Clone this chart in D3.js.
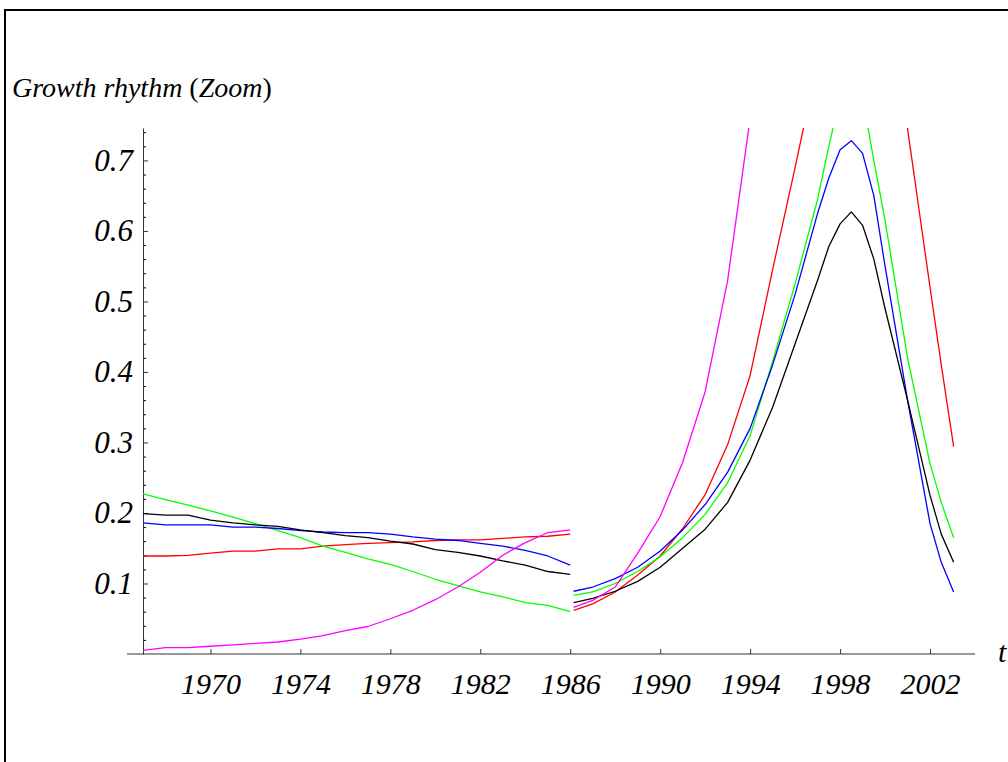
<!DOCTYPE html>
<html>
<head>
<meta charset="utf-8">
<script src="https://cdn.jsdelivr.net/npm/d3@7"></script>
<style>
  body { margin: 0; background: #fff; }
  svg { display: block; }
  .label { font-family: "Liberation Serif", "Times New Roman", serif; font-style: italic; fill: #000; }
</style>
</head>
<body>
<svg id="chart" width="1008" height="762"></svg>
<script>
// Two observation windows, drawn as separate pieces of each curve.
const leftYears = [1967, 1968, 1969, 1970, 1971, 1972, 1973, 1974, 1975, 1976,
  1977, 1978, 1979, 1980, 1981, 1982, 1983, 1984, 1985, 1986];
const rightYears = [1986.15, 1987, 1988, 1989, 1990, 1991, 1992, 1993, 1994, 1995, 1996,
  1997, 1997.5, 1998, 1998.5, 1999, 1999.5, 2000, 2001, 2002, 2002.5, 2003.05];

const blackLeft = [0.199, 0.197, 0.197, 0.190, 0.186, 0.183, 0.181, 0.176, 0.172, 0.168,
  0.165, 0.160, 0.156, 0.148, 0.144, 0.139, 0.132, 0.126, 0.117, 0.113];
const blueLeft = [0.186, 0.183, 0.183, 0.183, 0.180, 0.180, 0.178, 0.175, 0.173, 0.172,
  0.172, 0.170, 0.166, 0.163, 0.161, 0.157, 0.153, 0.147, 0.139, 0.126];
const redLeft = [0.139, 0.139, 0.140, 0.143, 0.146, 0.146, 0.149, 0.149, 0.153, 0.155,
  0.157, 0.158, 0.159, 0.161, 0.162, 0.162, 0.164, 0.166, 0.167, 0.170];
const greenLeft = [0.227, 0.219, 0.211, 0.203, 0.194, 0.185, 0.175, 0.165, 0.153, 0.144,
  0.135, 0.127, 0.117, 0.106, 0.097, 0.088, 0.081, 0.073, 0.069, 0.060];
const magentaLeft = [0.005, 0.009, 0.009, 0.011, 0.013, 0.015, 0.017, 0.021, 0.026, 0.033,
  0.039, 0.050, 0.062, 0.077, 0.095, 0.116, 0.140, 0.158, 0.172, 0.176];

const blackRight = [0.073, 0.079, 0.089, 0.103, 0.123, 0.150, 0.177, 0.215, 0.275, 0.350, 0.440,
  0.530, 0.578, 0.610, 0.627, 0.608, 0.560, 0.490, 0.360, 0.225, 0.170, 0.130];
const blueRight = [0.089, 0.095, 0.107, 0.123, 0.146, 0.176, 0.212, 0.258, 0.320, 0.410, 0.510,
  0.625, 0.675, 0.715, 0.728, 0.710, 0.650, 0.550, 0.360, 0.185, 0.130, 0.088];
const redRight = [0.062, 0.071, 0.088, 0.112, 0.139, 0.178, 0.226, 0.297, 0.395, 0.545, 0.690,
  0.840, 0.915, 0.965, 0.990, 0.980, 0.940, 0.900, 0.745, 0.520, 0.410, 0.294];
const greenRight = [0.083, 0.088, 0.100, 0.117, 0.138, 0.165, 0.198, 0.243, 0.310, 0.415, 0.525,
  0.645, 0.720, 0.790, 0.830, 0.790, 0.700, 0.615, 0.420, 0.270, 0.215, 0.165];
const magentaRight = [0.066, 0.076, 0.095, 0.143, 0.195, 0.272, 0.372, 0.530, 0.760, null, null,
  null, null, null, null, null, null, null, null, null, null, null];

const xTicks = [1970, 1974, 1978, 1982, 1986, 1990, 1994, 1998, 2002];
const yTicks = [0.1, 0.2, 0.3, 0.4, 0.5, 0.6, 0.7];

const series = [
  {color: '#ff0000', left: redLeft, right: redRight},
  {color: '#00ff00', left: greenLeft, right: greenRight},
  {color: '#0000ff', left: blueLeft, right: blueRight},
  {color: '#000000', left: blackLeft, right: blackRight},
  {color: '#ff00ff', left: magentaLeft, right: magentaRight}
];

(() => {
  const chart = d3.select('#chart');
  const width = +chart.attr('width');
  const height = +chart.attr('height');

  const x = d3.scaleLinear().domain([1967, 2004]).range([143, 975]);
  const y = d3.scaleLinear().domain([0, 0.746]).range([654, 128]);
  const axisColor = '#333';

  // frame of the notebook cell, open to the right and bottom
  chart.append('path')
    .attr('d', `M5,${height} V10 H${width}`)
    .attr('fill', 'none')
    .attr('stroke', '#000')
    .attr('stroke-width', 2);

  chart.append('text')
    .attr('class', 'label')
    .attr('x', 12)
    .attr('y', 97)
    .attr('font-size', 28)
    .call(t => {
      t.append('tspan').text('Growth rhythm ');
      t.append('tspan').attr('font-style', 'normal').text('(');
      t.append('tspan').text('Zoom');
      t.append('tspan').attr('font-style', 'normal').text(')');
    });

  // x axis: line runs a bit past the y axis, ticks point up
  const xAxis = d3.axisBottom(x).tickValues(xTicks).tickFormat(d3.format('d'))
    .tickSizeInner(-5).tickSizeOuter(0).tickPadding(19);
  const gx = chart.append('g')
    .attr('transform', `translate(0,${y(0)})`)
    .call(xAxis);
  gx.select('.domain').remove();
  gx.append('line')
    .attr('x1', 127).attr('x2', x(2004))
    .attr('stroke', axisColor);

  // y axis with minor ticks every 0.02
  const minor = d3.range(0.02, 0.75, 0.02).filter(v => Math.abs(v * 10 - Math.round(v * 10)) > 1e-6);
  chart.append('g')
    .attr('transform', `translate(${x(1967)},0)`)
    .call(d3.axisLeft(y).tickValues(minor).tickFormat('').tickSizeInner(-3).tickSizeOuter(0))
    .select('.domain').remove();
  const gy = chart.append('g')
    .attr('transform', `translate(${x(1967)},0)`)
    .call(d3.axisLeft(y).tickValues(yTicks).tickFormat(d3.format('.1f'))
      .tickSizeInner(-5).tickSizeOuter(0).tickPadding(10));

  [gx, gy].forEach(g => {
    g.attr('font-size', null).attr('font-family', null);
    g.selectAll('path, line').attr('stroke', axisColor);
    g.selectAll('text').attr('class', 'label').attr('font-size', 30);
  });
  gy.selectAll('text').attr('font-size', 31);

  chart.append('text')
    .attr('class', 'label')
    .attr('x', 998)
    .attr('y', 662)
    .attr('font-size', 30)
    .text('t');

  chart.append('clipPath').attr('id', 'plot-clip')
    .append('rect')
    .attr('x', 0).attr('y', y(0.746))
    .attr('width', width).attr('height', height);

  const line = d3.line()
    .defined(d => d[1] != null)
    .x(d => x(d[0]))
    .y(d => y(d[1]));

  const plot = chart.append('g').attr('clip-path', 'url(#plot-clip)');
  series.forEach(s => {
    [[leftYears, s.left], [rightYears, s.right]].forEach(([years, vals]) => {
      plot.append('path')
        .attr('d', line(d3.zip(years, vals)))
        .attr('fill', 'none')
        .attr('stroke', s.color)
        .attr('stroke-width', 1.3)
        .attr('stroke-linejoin', 'round');
    });
  });
})();
</script>
</body>
</html>
